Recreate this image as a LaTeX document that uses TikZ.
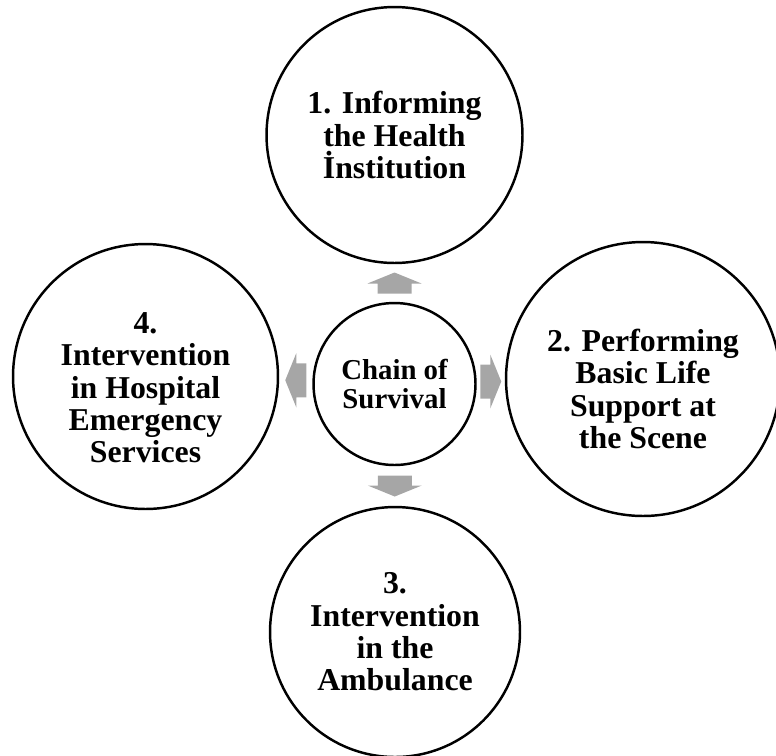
\documentclass[tikz,border=0pt]{standalone}
\usepackage{fontspec}
\setmainfont{Liberation Serif}
\usetikzlibrary{calc}
\definecolor{arrgray}{RGB}{166,166,166}
\newcommand{\blkarrow}[2]{%
  \fill[arrfill, shift={#1}, rotate=#2]
    (-10.5,-17) -- (-0.5,-17) -- (-0.5,-27) -- (10.5,0) -- (-0.5,27) -- (-0.5,17) -- (-10.5,17) -- cycle;}
\tikzset{
  stagetxt/.style={align=center, inner sep=0pt, font=\fontsize{18.1}{18.4}\selectfont\bfseries},
  stage/.style={stagetxt, circle, draw=black, line width=1.4pt},
  hubc/.style={stage, minimum size=3.24cm, font=\fontsize{16.4}{16.5}\selectfont\bfseries},
  arrfill/.style={fill=arrgray},
}
\begin{document}
\begin{tikzpicture}[x=0.02cm,y=-0.02cm]
\useasboundingbox (0,0) rectangle (776,755);
\clip (0,0) rectangle (776,755);
\node[hubc] (hub) at (394.5,384) {Chain of\\Survival};
\node[stage, minimum size=5.12cm] (inform) at (394.5,135) {1. Informing\\the Health\\İnstitution};
\node[stage, minimum size=5.48cm] (scene) at (643,379) {};
\node[stagetxt] (scene-txt) at ([yshift=-0.2cm]scene.center) {2. Performing\\Basic Life\\Support at\\the Scene};
\node[stage, minimum size=5.0cm] (ambul) at (395,632) {3.\\Intervention\\in the\\Ambulance};
\node[stage, minimum size=5.30cm] (hosp) at (145.5,376.5) {};
\node[stagetxt] (hosp-txt) at ([yshift=-0.23cm]hosp.center) {4.\\Intervention\\in Hospital\\Emergency\\Services};
% block arrows between hub and stages
\blkarrow{($(hub.north)!0.5!(inform.south)$)}{90}
\blkarrow{($(hub.east)!0.5!(scene.west)$)}{0}
\blkarrow{($(hub.south)!0.5!(ambul.north)$)}{-90}
\blkarrow{($(hub.west)!0.5!(hosp.east)$)}{180}
\end{tikzpicture}
\end{document}
